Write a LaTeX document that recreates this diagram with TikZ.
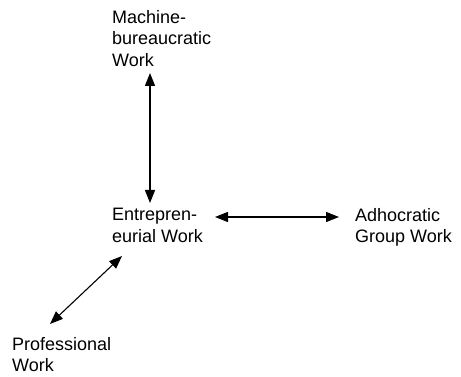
\documentclass[tikz,border=0pt]{standalone}
\usepackage{fontspec}
\setmainfont{Liberation Sans}
\usetikzlibrary{arrows.meta}
\tikzset{
  lbl/.style={anchor=north west, inner sep=0pt, align=left, font=\fontsize{18}{21.5}\selectfont},
  arr/.style={{Triangle[length=13pt,width=10pt]}-{Triangle[length=13pt,width=10pt]}, line width=1.1pt}
}
\begin{document}
\begin{tikzpicture}[x=1pt,y=-1pt]
\useasboundingbox (0,0) rectangle (461,377);
\node[lbl] (mb) at (112,10) {Machine-\\bureaucratic\\Work};
\node[lbl] (ent) at (112,208) {Entrepren-\\eurial Work};
\node[lbl] (adh) at (355,208) {Adhocratic\\Group Work};
\node[lbl] (pro) at (12,337) {Professional\\Work};
\coordinate (v1) at (150,73);
\coordinate (v2) at (150,203);
\coordinate (h1) at (215,217);
\coordinate (h2) at (339,217);
\coordinate (d1) at (122,256);
\coordinate (d2) at (50,324);
\draw[arr] (v1) -- (v2);
\draw[arr] (h1) -- (h2);
\draw[arr] (d1) -- (d2);
\end{tikzpicture}
\end{document}
